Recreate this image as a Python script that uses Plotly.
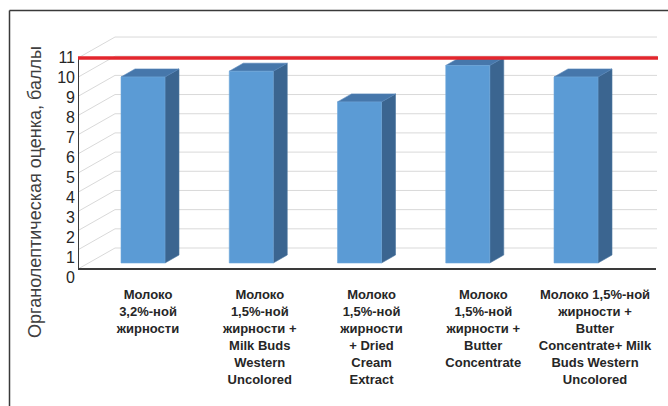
import plotly.graph_objects as go

# ---------------- data ----------------
categories = [
    "Молоко<br>3,2%-ной<br>жирности",
    "Молоко<br>1,5%-ной<br>жирности +<br>Milk Buds<br>Western<br>Uncolored",
    "Молоко<br>1,5%-ной<br>жирности<br>+ Dried<br>Cream<br>Extract",
    "Молоко<br>1,5%-ной<br>жирности +<br>Butter<br>Concentrate",
    "Молоко 1,5%-ной<br>жирности +<br>Butter<br>Concentrate+ Milk<br>Buds Western<br>Uncolored",
]
scores = [9.7, 10.0, 8.4, 10.3, 9.7]
y_ticks = list(range(0, 12))
y_tick_labels = [str(v) for v in y_ticks]
max_score = 11
y_title = "Органолептическая оценка, баллы"

# ---------------- layout geometry (pixels) ----------------
W, H = 668, 406
ML, MR, MT, MB = 78, 8, 28, 122
PLOT_W = W - ML - MR
PLOT_H = H - MT - MB

X0_PX = 143.0      # first bar front-face centre
STEP_PX = 108.25   # distance between bars
Y0_PX = 269.0      # front-plane value 0
UNIT_PX = 19.18    # px per score unit
FRONT_L, FRONT_R = 78.0, 656.0
BACK_L, BACK_R = 115.0, 657.0
WALL_DY = 21.0
BAR_HALF = 22.0
BAR_BASE = 6.0
BAR_DX, BAR_DY = 14.0, 8.0
LABEL_X0, LABEL_STEP = 148.0, 111.75
Y2_ZERO_PX, Y2_UNIT_PX = 277.0, 20.0


def ux(px):
    return (px - X0_PX) / STEP_PX


def dxu(px):
    return px / STEP_PX


def dyu(px):
    return px / UNIT_PX


def paper_x(px):
    return (px - ML) / PLOT_W


def paper_y(py):
    return (MT + PLOT_H - py) / PLOT_H


fig = go.Figure()

# ---- back wall + left wall gridlines ----
gx, gy = [], []
for k in y_ticks:
    yb = k + dyu(WALL_DY)
    gx += [ux(FRONT_L), ux(BACK_L), ux(BACK_R), None]
    gy += [k, yb, yb, None]
fig.add_trace(go.Scatter(x=gx, y=gy, mode="lines",
                         line=dict(color="#d9d9d9", width=1),
                         hoverinfo="skip", showlegend=False))

# ---- bars (front, side, top faces) ----
fx, fy, sx, sy, tx, ty = [], [], [], [], [], []
bdx, bdy = dxu(BAR_DX), dyu(BAR_DY)
for i, v in enumerate(scores):
    xl, xr = i - dxu(BAR_HALF), i + dxu(BAR_HALF)
    b = dyu(BAR_BASE)
    t = b + v
    fx += [xl, xr, xr, xl, xl, None]
    fy += [b, b, t, t, b, None]
    sx += [xr, xr + bdx, xr + bdx, xr, xr, None]
    sy += [b, b + bdy, t + bdy, t, b, None]
    tx += [xl, xr, xr + bdx, xl + bdx, xl, None]
    ty += [t, t, t + bdy, t + bdy, t, None]

for xs, ys, col, edge in [(sx, sy, "#3b6590", "#4a75a0"),
                          (tx, ty, "#4677ab", "#5585b8"),
                          (fx, fy, "#5b9bd5", "#6fa8dc")]:
    fig.add_trace(go.Scatter(x=xs, y=ys, mode="lines", fill="toself",
                             fillcolor=col, line=dict(color=edge, width=0.6),
                             hoverinfo="skip", showlegend=False))

# ---- front axis lines ----
fig.add_trace(go.Scatter(x=[ux(FRONT_L), ux(FRONT_L), ux(FRONT_R)],
                         y=[max_score, 0, 0], mode="lines",
                         line=dict(color="#3a3a3a", width=2),
                         hoverinfo="skip", showlegend=False))

# ---- red maximum line ----
fig.add_trace(go.Scatter(x=[ux(FRONT_L), ux(BACK_R + 1)],
                         y=[max_score, max_score], mode="lines",
                         line=dict(color="#e3262d", width=3.5),
                         hoverinfo="skip", showlegend=False))

# invisible trace for the label axis
fig.add_trace(go.Scatter(x=[0], y=[0], yaxis="y2", mode="markers",
                         marker=dict(opacity=0), hoverinfo="skip",
                         showlegend=False))

font_family = "Liberation Sans, Arial, sans-serif"

fig.update_layout(
    width=W, height=H,
    margin=dict(l=ML, r=MR, t=MT, b=MB, pad=0),
    paper_bgcolor="white", plot_bgcolor="white",
    showlegend=False,
    font=dict(family=font_family, color="#262626"),
    xaxis=dict(
        range=[ux(ML), ux(W - MR)],
        tickmode="array",
        tickvals=[ux(LABEL_X0 + LABEL_STEP * i) for i in range(len(categories))],
        ticktext=categories,
        tickangle=0,
        tickfont=dict(size=13, weight="bold", color="#262626", family=font_family),
        showgrid=False, zeroline=False, showline=False, ticks="",
        ticklabelstandoff=1,
        fixedrange=True,
    ),
    yaxis=dict(
        range=[-(MT + PLOT_H - Y0_PX) / UNIT_PX, (Y0_PX - MT) / UNIT_PX],
        visible=False, fixedrange=True,
    ),
    yaxis2=dict(
        overlaying="y", anchor="x", side="left",
        range=[-(MT + PLOT_H - Y2_ZERO_PX) / Y2_UNIT_PX, (Y2_ZERO_PX - MT) / Y2_UNIT_PX],
        tickmode="array", tickvals=y_ticks, ticktext=y_tick_labels,
        tickfont=dict(size=16, color="#262626", family=font_family),
        showgrid=False, zeroline=False, showline=False, ticks="",
        ticklabelstandoff=2,
        fixedrange=True,
    ),
    annotations=[dict(
        text=y_title, textangle=-90,
        xref="paper", yref="paper",
        x=paper_x(35), y=paper_y(192),
        xanchor="center", yanchor="middle", showarrow=False,
        font=dict(size=18, color="#404040", family=font_family),
    )],
    shapes=[
        dict(type="line", xref="paper", yref="paper",
             x0=paper_x(9.5), y0=paper_y(10.5), x1=paper_x(W + 20), y1=paper_y(10.5),
             line=dict(color="#3a3a3a", width=1.5)),
        dict(type="line", xref="paper", yref="paper",
             x0=paper_x(9.5), y0=paper_y(10.5), x1=paper_x(9.5), y1=paper_y(H + 20),
             line=dict(color="#3a3a3a", width=1.5)),
    ],
)

fig.write_html("out.html")
